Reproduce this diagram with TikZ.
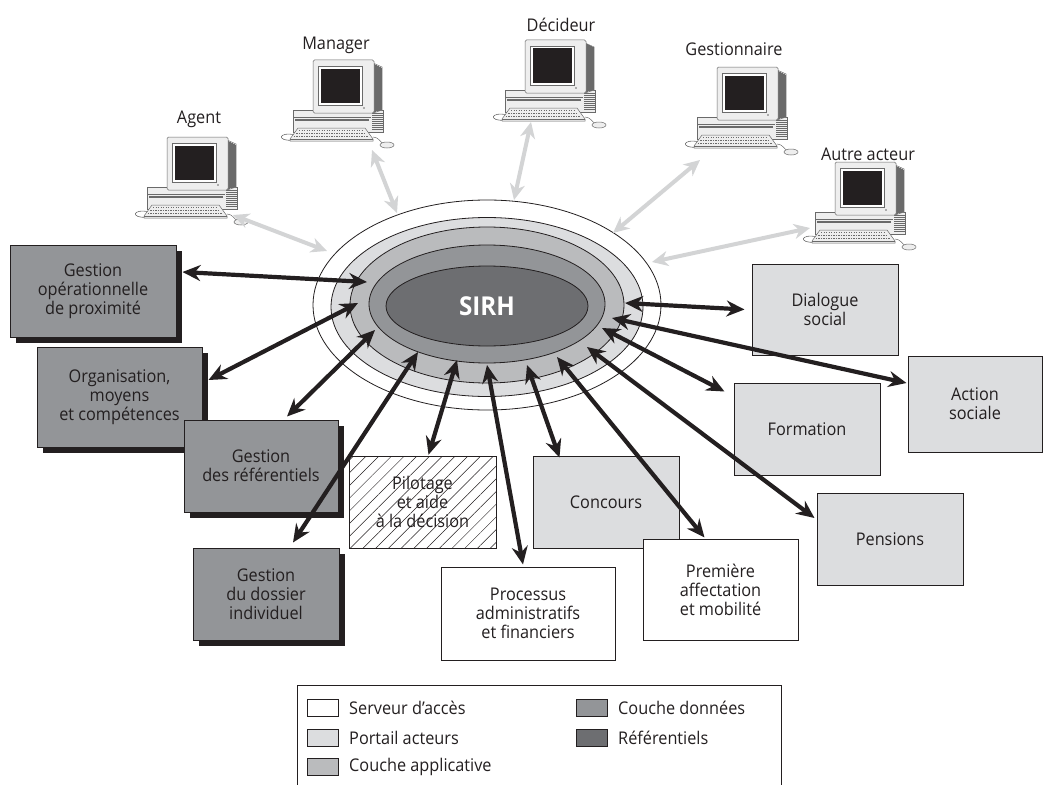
\documentclass[tikz,border=0pt]{standalone}
\usepackage{fontspec}
\setmainfont{Open Sans}[FakeStretch=0.93]
\usetikzlibrary{arrows.meta,calc,patterns.meta,shadows,shapes.geometric}

\definecolor{ink}{HTML}{231F20}
\definecolor{portail}{HTML}{DCDDDF}
\definecolor{applic}{HTML}{BABBBD}
\definecolor{donnees}{HTML}{939598}
\definecolor{referent}{HTML}{6D6E71}
\definecolor{link}{HTML}{D3D4D5}
\definecolor{pcbody}{HTML}{EEEEEE}
\definecolor{pcline}{HTML}{6A6A6A}
\definecolor{pcbezel}{HTML}{C8C8C8}
\definecolor{pcscreen}{HTML}{231F20}

\tikzset{
  txt/.style={font=\fontsize{17.5}{19}\selectfont, text=ink, align=center},
  box/.style={txt, draw=ink, line width=1pt, inner sep=0pt},
  darkbox/.style={box, fill=donnees,
    general shadow={fill=ink, shadow xshift=6pt, shadow yshift=-6pt}},
  lightbox/.style={box, fill=portail},
  whitebox/.style={box, fill=white},
  hatchbox/.style={box, pattern={Lines[angle=45,distance=9pt,line width=0.5pt]}, pattern color=ink},
  ring/.style={ellipse, draw=ink, line width=0.8pt, inner sep=0pt},
  biarrow/.style={line width=4.2pt, draw=ink,
    {Stealth[length=18pt,width=16pt,inset=6pt]}-{Stealth[length=18pt,width=16pt,inset=6pt]}},
  userlink/.style={line width=4pt, draw=link,
    {Stealth[length=16pt,width=15pt,inset=5pt]}-{Stealth[length=16pt,width=15pt,inset=5pt]}},
  swatch/.style={draw=ink, line width=0.8pt, minimum width=31, minimum height=17, inner sep=0pt},
  legendtext/.style={txt, anchor=west, inner sep=0pt},
  userlabel/.style={txt},
  % desktop workstation, origin at the top-left corner of the system unit
  computer/.pic={
    \draw[pcline, line width=0.6pt] (3,25) .. controls (-16,21) and (-16,32) .. (0,30);
    \filldraw[fill=pcbody, draw=pcline, line width=0.5pt] (0,0) rectangle (90,22);
    \draw[pcline, line width=0.5pt] (1,7) -- (78,7);
    \draw[pcline, line width=1.2pt] (2,10) -- (76,10);
    \foreach \k in {1,...,9} \draw[pcline, line width=0.3pt] (79,1+2*\k) -- (89.5,1+2*\k);
    \filldraw[fill=pcbody, draw=pcline, line width=0.5pt] (80,-47) -- (89,-43) -- (89,0) -- (80,3) -- cycle;
    \foreach \k in {0,...,7} \draw[pcline, line width=0.3pt] (81+\k,-46+0.5*\k) -- (81+\k,2-0.3*\k);
    \filldraw[fill=pcbody, draw=pcline, line width=0.5pt, rounded corners=1.5pt] (20,-50) rectangle (81,3);
    \filldraw[fill=white, draw=pcline, line width=0.4pt] (25,-44) rectangle (69,-5);
    \fill[pcscreen] (27.5,-41.5) rectangle (66.5,-7.5);
    \fill[pcline] (71,-2) circle (0.8);
    \filldraw[fill=pcbody, draw=pcline, line width=0.5pt] (5,18) -- (72,18) -- (80,29) -- (80,31) -- (-3,31) -- (-3,29) -- cycle;
    \draw[pcline, line width=0.4pt] (-3,29) -- (80,29);
    \foreach \r in {0,1,2}
      \draw[pcline, line width=0.9pt, dash pattern=on 1.3pt off 1.2pt] (6-2.6*\r,20.5+2.8*\r) -- (70+2.6*\r,20.5+2.8*\r);
    \draw[pcline, line width=0.5pt] (80,27) .. controls (88,28) and (86,33) .. (92,34);
    \filldraw[fill=pcbody, draw=pcline, line width=0.5pt] (94,35) ellipse [x radius=7, y radius=3];
  }
}

\begin{document}
\begin{tikzpicture}[x=1pt,y=-1pt]
\useasboundingbox (0,0) rectangle (1043,784);

% ---- workstations of the actors ----
\pic at (147,187) {computer};
\pic at (293,110) {computer};
\pic at (505,90) {computer};
\pic at (697,117) {computer};
\pic at (815,212) {computer};
\node[userlabel] (lagent) at (199,119) {Agent};
\node[userlabel] (lmanager) at (336,45) {Manager};
\node[userlabel] (ldecideur) at (561,25) {Décideur};
\node[userlabel] (lgest) at (734,49) {Gestionnaire};
\node[userlabel] (lautre) at (868,154) {Autre acteur};

% ---- layered core of the HR information system ----
\node[ring, fill=white,    minimum width=348, minimum height=210] (srv)    at (487,305) {};
\node[ring, fill=portail,  minimum width=312, minimum height=179] (portal) at (487,307) {};
\node[ring, fill=applic,   minimum width=274, minimum height=156] (appl)   at (487,305) {};
\node[ring, fill=donnees,  minimum width=236, minimum height=118] (data)   at (487,304) {};
\node[ring, fill=referent, minimum width=202, minimum height=80,
      text=white, font=\bfseries\fontsize{26}{28}\selectfont] (core) at (487,306) {SIRH};

% ---- actor links ----
\coordinate (uA) at (233,215); \coordinate (sA) at (327,251);
\coordinate (uM) at (372,150); \coordinate (sM) at (397,213);
\coordinate (uD) at (531,122); \coordinate (sD) at (514,200);
\coordinate (uG) at (700,160); \coordinate (sG) at (613,233);
\coordinate (uX) at (810,228); \coordinate (sX) at (652,262);
\draw[userlink] (uA) -- (sA);
\draw[userlink] (uM) -- (sM);
\draw[userlink] (uD) -- (sD);
\draw[userlink] (uG) -- (sG);
\draw[userlink] (uX) -- (sX);

% ---- functional domains ----
\node[darkbox, minimum width=166, minimum height=92]  (gop) at (93,291)    {Gestion\\opérationnelle\\de proximité};
\node[darkbox, minimum width=165, minimum height=100] (org) at (119.5,397) {Organisation,\\moyens\\et compétences};
\node[darkbox, minimum width=154, minimum height=92]  (ref) at (261,466)   {Gestion\\des référentiels};
\node[darkbox, minimum width=146, minimum height=92]  (dos) at (266,594)   {Gestion\\du dossier\\individuel};
\node[hatchbox, minimum width=147, minimum height=92] (pil) at (422.5,502) {Pilotage\\et aide\\à la décision};
\node[lightbox, minimum width=146, minimum height=92] (con) at (606,502)   {Concours};
\node[whitebox, minimum width=174, minimum height=93] (pro) at (528,613.5) {Processus\\administratifs\\et financiers};
\node[whitebox, minimum width=155, minimum height=101] (pre) at (720.5,589.5) {Première\\affectation\\et mobilité};
\node[lightbox, minimum width=146, minimum height=92] (pen) at (890,539)   {Pensions};
\node[lightbox, minimum width=146, minimum height=92] (for) at (807,429)   {Formation};
\node[lightbox, minimum width=134, minimum height=96] (act) at (975,404)   {Action\\sociale};
\node[lightbox, minimum width=146, minimum height=91] (dia) at (825,309.5) {Dialogue\\social};

% ---- exchanges between the core and the domains ----
\coordinate (e1) at (367,282);
\coordinate (e2) at (358,303);
\coordinate (e3) at (375,330);
\coordinate (e4) at (418,352);
\coordinate (e5) at (457,360);
\coordinate (e6) at (487,365);
\coordinate (e7) at (527,365);
\coordinate (e8) at (557,357);
\coordinate (e9) at (587,347);
\coordinate (e10) at (602,328);
\coordinate (e11) at (612,318);
\coordinate (e12) at (625,303);
\draw[biarrow] (e1) -- ($(gop.east)+(6,-19)$);
\draw[biarrow] (e2) -- ($(org.east)+(6,-17)$);
\draw[biarrow] (e3) -- ($(ref.north)+(26,-3)$);
\draw[biarrow] (e4) -- ($(dos.north)+(27,-5)$);
\draw[biarrow] (e5) -- ($(pil.north)+(6,-1)$);
\draw[biarrow] (e6) -- ($(pro.north)+(-5,-2)$);
\draw[biarrow] (e7) -- ($(con.north west)+(27,2)$);
\draw[biarrow] (e8) -- ($(pre.north west)+(62,-1)$);
\draw[biarrow] (e9) -- ($(pen.west)+(-2,-21)$);
\draw[biarrow] (e10) -- ($(for.north west)+(-9,9)$);
\draw[biarrow] (e11) -- ($(act.west)+(-1,-21)$);
\draw[biarrow] (e12) -- ($(dia.west)+(-7,0)$);

% ---- legend ----
\node[draw=ink, line width=1pt, minimum width=484, minimum height=110, anchor=north west, inner sep=0pt] (legend) at (297,685) {};
\node[swatch, fill=white]    (k1) at (322.5,708) {};
\node[swatch, fill=portail]  (k2) at (322.5,738) {};
\node[swatch, fill=applic]   (k3) at (322.5,767) {};
\node[swatch, fill=donnees]  (k4) at (592,708) {};
\node[swatch, fill=referent] (k5) at (592,738) {};
\node[legendtext] (t1) at (349,708) {Serveur d’accès};
\node[legendtext] (t2) at (349,738) {Portail acteurs};
\node[legendtext] (t3) at (349,767) {Couche applicative};
\node[legendtext] (t4) at (618,708) {Couche données};
\node[legendtext] (t5) at (618,738) {Référentiels};
\end{tikzpicture}
\end{document}
